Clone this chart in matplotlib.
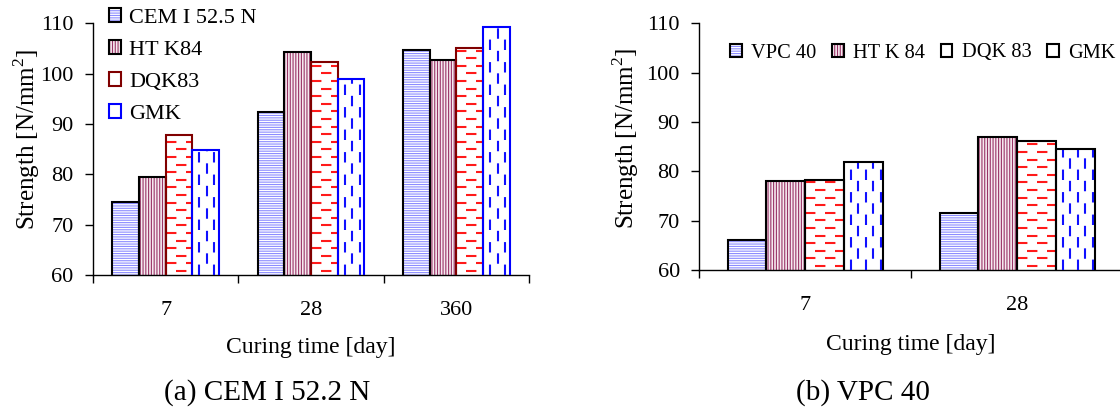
import matplotlib
matplotlib.use('Agg')
import matplotlib.pyplot as plt
from matplotlib.patches import Patch
import numpy as np

plt.rcParams['font.family'] = ['Liberation Serif', 'DejaVu Serif']
plt.rcParams['mathtext.fontset'] = 'custom'
plt.rcParams['mathtext.rm'] = 'Liberation Serif'
plt.rcParams['hatch.linewidth'] = 0.8

# ---- data, panel (a) CEM I 52.5 N ----
days_a = ['7', '28', '360']
cem_a = [74.6, 92.4, 104.6]
htk_a = [79.5, 104.2, 102.7]
dqk_a = [87.9, 102.4, 105.0]
gmk_a = [84.8, 98.9, 109.3]
names_a = ['CEM I 52.5 N', 'HT K84', 'DQK83', 'GMK']

# ---- data, panel (b) VPC 40 ----
days_b = ['7', '28']
vpc_b = [66.1, 71.5]
htk_b = [78.0, 86.9]
dqk_b = [78.3, 86.1]
gmk_b = [81.9, 84.5]
names_b = ['VPC 40', 'HT K 84', 'DQK 83', 'GMK']

yticks = [60, 70, 80, 90, 100, 110]

fig = plt.figure(figsize=(11.2, 4.08), dpi=100)
ax1 = fig.add_axes([93 / 1120, 1 - 275 / 408, 436.2 / 1120, 251.7 / 408])
ax2 = fig.add_axes([699.2 / 1120, 1 - 270 / 408, 424 / 1120, 246.7 / 408])

bar_w = 0.183
offsets = (np.arange(4) - 1.5) * bar_w


def panel(ax, cats, series, edges):
    x = np.arange(len(cats))
    ax.set_xlim(-0.5, len(cats) - 0.5)
    ax.set_ylim(60, 110)
    # data units per pixel
    p0 = ax.transData.transform((0, 60))
    p1 = ax.transData.transform((1, 70))
    dx = 1 / (p1[0] - p0[0])
    dy = 10 / (p1[1] - p0[1])

    # solid line fills
    ax.bar(x + offsets[0], series[0], bar_w, color='white', edgecolor='#8c8cff',
           hatch='-------', lw=0, zorder=2)
    ax.bar(x + offsets[1], series[1], bar_w, color='#f6eaf0', edgecolor='#993366',
           hatch='||||||', lw=0, zorder=2)
    red_bars = ax.bar(x + offsets[2], series[2], bar_w, color='white', lw=0, zorder=2)
    blue_bars = ax.bar(x + offsets[3], series[3], bar_w, color='white', lw=0, zorder=2)

    # red horizontal dashes, staggered rows
    for b in red_bars:
        x0, w, h = b.get_x(), b.get_width(), b.get_height()
        ys = np.arange(60 + 4 * dy, h, 7.6 * dy)
        for k, yy in enumerate(ys):
            off = 0 if k % 2 else 4.8
            lc = ax.hlines(yy, x0, x0 + w, colors='#ff1a1a', lw=1.5,
                           linestyles=[(off, (5.0, 4.6))], zorder=3)
            lc.set_clip_path(b)

    # blue vertical dashes, staggered columns
    for b in blue_bars:
        x0, w, h = b.get_x(), b.get_width(), b.get_height()
        xs = np.arange(x0 + 7 * dx, x0 + w, 7.5 * dx)
        for k, xx in enumerate(xs):
            off = 0 if k % 2 == 0 else 5.4
            lc = ax.vlines(xx, 60, h, colors='#1010ff', lw=1.5,
                           linestyles=[(off, (5.0, 5.8))], zorder=3)
            lc.set_clip_path(b)

    # outlines
    for i in range(4):
        ax.bar(x + offsets[i], series[i], bar_w, fill=False, edgecolor=edges[i],
               lw=1.5, zorder=4)

    ax.spines['top'].set_visible(False)
    ax.spines['right'].set_visible(False)
    ax.spines['left'].set_linewidth(1)
    ax.spines['bottom'].set_linewidth(1)

    ax.set_yticks(yticks)
    ax.tick_params(axis='y', direction='out', length=5.5, width=1, pad=8.5, labelsize=16)
    ax.set_xticks(x)
    ax.set_xticklabels(cats)
    ax.set_xticks(np.arange(len(cats) + 1) - 0.5, minor=True)
    ax.tick_params(axis='x', which='major', length=0, pad=19, labelsize=16)
    ax.tick_params(axis='x', which='minor', direction='out', length=5.5, width=1)

    ax.set_xlabel('Curing time [day]', fontsize=17)
    ax.set_ylabel('Strength [N/mm$^2$]', fontsize=18)
    ax.xaxis.label.set_va('center')
    ax.yaxis.label.set_va('center')


panel(ax1, days_a, [cem_a, htk_a, dqk_a, gmk_a], ['black', 'black', '#800000', '#0000ff'])
panel(ax2, days_b, [vpc_b, htk_b, dqk_b, gmk_b], ['black'] * 4)

ax1.xaxis.set_label_coords(0.5, -0.29)
ax1.yaxis.set_label_coords(-0.151, 0.54)
ax2.xaxis.set_label_coords(0.5, -0.304)
ax2.yaxis.set_label_coords(-0.173, 0.535)


def handles(edges):
    return [
        (Patch(facecolor='white', edgecolor='#8c8cff', hatch='-------', lw=0),
         Patch(fill=False, edgecolor=edges[0], lw=1.5)),
        (Patch(facecolor='#f6eaf0', edgecolor='#993366', hatch='||||||', lw=0),
         Patch(fill=False, edgecolor=edges[1], lw=1.5)),
        Patch(facecolor='white', edgecolor=edges[2], lw=1.5),
        Patch(facecolor='white', edgecolor=edges[3], lw=1.5),
    ]


ax1.legend(handles(['black', 'black', '#800000', '#0000ff']), names_a,
           loc='upper left', bbox_to_anchor=(109 / 1120, 1 - 8 / 408),
           bbox_transform=fig.transFigure, frameon=False, fontsize=16,
           handlelength=0.56, handleheight=0.56, handletextpad=0.34,
           labelspacing=0.56, borderpad=0, borderaxespad=0)
ax2.legend(handles(['black'] * 4), names_b, ncol=4,
           loc='upper left', bbox_to_anchor=(730 / 1120, 1 - 43.5 / 408),
           bbox_transform=fig.transFigure, frameon=False, fontsize=14.7,
           handlelength=0.57, handleheight=0.57, handletextpad=0.45,
           columnspacing=0.78, borderpad=0, borderaxespad=0)

fig.text(266.8 / 1120, 1 - 393 / 408, '(a) CEM I 52.2 N', ha='center', va='center', fontsize=21)
fig.text(862.7 / 1120, 1 - 393 / 408, '(b) VPC 40', ha='center', va='center', fontsize=21)

fig.savefig('out.png', dpi=100)
